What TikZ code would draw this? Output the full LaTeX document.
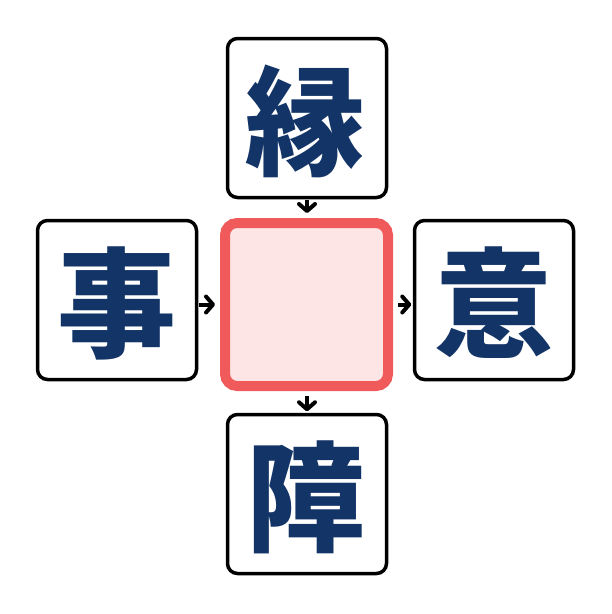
\documentclass[tikz,border=0pt]{standalone}
\usepackage{fontspec}
\newfontfamily\cjk{Noto Sans CJK JP Black}
\usetikzlibrary{arrows.meta}
\definecolor{navy}{HTML}{133467}
\definecolor{pinkfill}{HTML}{FDE5E5}
\definecolor{redline}{HTML}{F05A5A}
\tikzset{
  charbox/.style={draw=black, line width=3.5pt, rounded corners=10pt, fill=white,
    minimum width=159pt, minimum height=159pt, inner sep=0pt},
  chartext/.style={text=navy, font=\cjk\fontsize{119}{119}\selectfont, inner sep=0pt},
  hubbox/.style={draw=redline, line width=10pt, rounded corners=12pt, fill=pinkfill,
    minimum width=163pt, minimum height=163pt, inner sep=0pt},
  arr/.style={line width=4pt, -{Straight Barb[length=7pt,width=16pt,line width=4pt,round]}}
}
\begin{document}
\begin{tikzpicture}[x=1pt,y=-1pt]
\useasboundingbox (0,0) rectangle (612,614);
\node[charbox] (top) at (307,118) {};
\node[charbox] (left) at (117,300) {};
\node[charbox] (right) at (494,300) {};
\node[charbox] (bottom) at (307,494) {};
\node[hubbox] (hub) at (306.5,304.5) {};
\node[chartext] (t1) at (305,121) {縁};
\node[chartext] (t2) at (117,303) {事};
\node[chartext] (t3) at (494,303) {意};
\node[chartext] (t4) at (306,497) {障};
\draw[arr, shorten <=1pt, shorten >=5pt] (top.south |- top.south) -- (top.south |- hub.north);
\draw[arr, shorten <=1pt, shorten >=5pt] (left.east |- hub.west) -- (hub.west);
\draw[arr, shorten <=5pt, shorten >=1.5pt] (hub.east) -- (right.west |- hub.east);
\draw[arr, shorten <=5pt, shorten >=1.5pt] (bottom.north |- hub.south) -- (bottom.north);
\end{tikzpicture}
\end{document}
